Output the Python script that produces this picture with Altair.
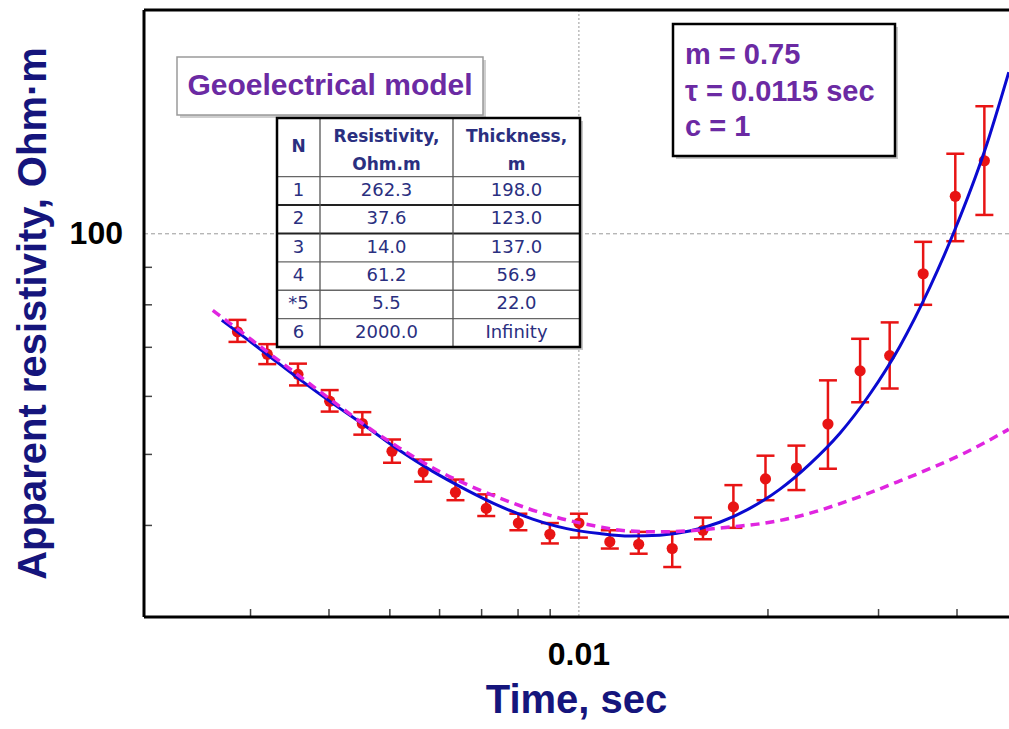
import altair as alt
import pandas as pd

# ---------------- data ----------------
time_s = [0.00286, 0.00319, 0.00357, 0.00401, 0.00452, 0.00504, 0.00565, 0.00636,
          0.00712, 0.00801, 0.00899, 0.0100, 0.0112, 0.01245, 0.01408, 0.01576,
          0.01762, 0.01982, 0.0222, 0.02492, 0.02804, 0.03125, 0.03533, 0.03975, 0.04422]
rho_obs = [73.5, 68.5, 64.3, 59.1, 55.1, 50.5, 47.3, 44.4, 42.2, 40.3, 38.9, 40.3,
           38.0, 37.7, 37.2, 39.4, 42.4, 46.3, 47.9, 55.0, 65.0, 68.2, 88.2, 112.5, 125.8]
rho_hi = [76.3, 70.7, 66.5, 61.2, 57.1, 52.4, 49.2, 46.2, 44.1, 41.5, 40.3, 41.5,
          39.4, 39.2, 39.2, 41.0, 45.4, 49.8, 51.4, 63.1, 71.9, 75.7, 97.5, 128.6, 149.3]
rho_lo = [71.2, 66.4, 62.1, 57.2, 53.2, 48.7, 45.9, 43.3, 41.2, 39.4, 37.8, 38.5,
          37.2, 36.6, 35.1, 38.3, 39.7, 43.3, 44.7, 47.8, 58.9, 61.5, 80.0, 97.7, 106.1]

# fitted curve (solid blue)
fit_t = [0.00270, 0.00281, 0.003184, 0.003593, 0.004055, 0.004594, 0.005183, 0.005851,
         0.006628, 0.007479, 0.008441, 0.009563, 0.01079, 0.01205, 0.01345, 0.01501,
         0.01676, 0.01871, 0.02088, 0.02331, 0.02602, 0.02905, 0.03243, 0.0362,
         0.03966, 0.04429, 0.04835]
fit_rho = [76.2, 74.3, 68.5, 63.3, 58.7, 54.5, 50.6, 47.4, 44.7, 42.5, 40.8, 39.6,
           39.0, 38.7, 38.8, 39.3, 40.4, 42.2, 44.8, 48.5, 53.4, 60.4, 70.2, 84.5,
           101.1, 130.0, 166.1]

# geoelectrical model curve (dashed magenta)
model_t = [0.002612, 0.00281, 0.003184, 0.003593, 0.004055, 0.004594, 0.005183,
           0.005938, 0.006628, 0.007479, 0.008566, 0.009563, 0.01067, 0.01205, 0.0136,
           0.0154, 0.01738, 0.01941, 0.02247, 0.02536, 0.02862, 0.03243, 0.0366,
           0.0413, 0.04835]
model_rho = [78.6, 75.0, 69.1, 63.9, 59.1, 54.6, 51.0, 47.6, 45.5, 43.6, 41.8, 40.7,
             39.9, 39.3, 39.2, 39.4, 39.8, 40.2, 41.2, 42.5, 44.1, 46.0, 48.0, 50.3, 54.1]

# axis labels / ticks
x_labels = [0.01]
y_labels = [100]
x_minor = [0.003, 0.004, 0.005, 0.006, 0.007, 0.008, 0.009, 0.02, 0.03, 0.04]
y_minor = [40, 50, 60, 70, 80, 90]
x_title = "Time, sec"
y_title = "Apparent resistivity, Ohm\u00b7m"

# model table
layer_n = ["1", "2", "3", "4", "*5", "6"]
layer_res = ["262.3", "37.6", "14.0", "61.2", "5.5", "2000.0"]
layer_thk = ["198.0", "123.0", "137.0", "56.9", "22.0", "Infinity"]
params = ["m = 0.75", "\u03c4 = 0.0115 sec", "c = 1"]

# ---------------- layout / style ----------------
W, H = 865, 607
PAD_L, PAD_T = 144, 10
FONT = "Liberation Sans"
NAVY = "#15157c"
PURPLE = "#6b2aa3"
TBL = "#2a2f80"
RED = "#e81414"

x_scale = alt.Scale(type="log", domain=[0.00203, 0.0484], nice=False)
y_scale = alt.Scale(type="log", domain=[30, 202], nice=False)

one = alt.Data(values=[{"k": 0}])

obs = pd.DataFrame({"t": time_s, "rho": rho_obs, "lo": rho_lo, "hi": rho_hi})
fit = pd.DataFrame({"t": fit_t, "rho": fit_rho})
mod = pd.DataFrame({"t": model_t, "rho": model_rho})


def X(field="t"):
    return alt.X(f"{field}:Q", scale=x_scale, axis=None)


def Y(field="rho"):
    return alt.Y(f"{field}:Q", scale=y_scale, axis=None)


# grid lines (only at labelled values)
vgrid = alt.Chart(pd.DataFrame({"t": x_labels})).mark_rule(
    color="#9a9a9a", strokeWidth=1, strokeDash=[2, 2]).encode(
    x=X(), y=alt.value(0), y2=alt.value(H))
hgrid = alt.Chart(pd.DataFrame({"rho": y_labels})).mark_rule(
    color="#9a9a9a", strokeWidth=1, strokeDash=[4, 3]).encode(
    y=Y(), x=alt.value(0), x2=alt.value(W))

# inward minor ticks
xticks = alt.Chart(pd.DataFrame({"t": x_minor})).mark_rule(
    color="#444444", strokeWidth=1.5).encode(x=X(), y=alt.value(H), y2=alt.value(H - 8))
yticks = alt.Chart(pd.DataFrame({"rho": y_minor})).mark_rule(
    color="#444444", strokeWidth=1.5).encode(y=Y(), x=alt.value(0), x2=alt.value(8))

# frame: top, left, bottom (right side is cut off in the reference)
frame = [
    alt.Chart(one).mark_rule(color="black", strokeWidth=3).encode(
        x=alt.value(0), x2=alt.value(W), y=alt.value(0)),
    alt.Chart(one).mark_rule(color="black", strokeWidth=3).encode(
        x=alt.value(0), y=alt.value(0), y2=alt.value(H)),
    alt.Chart(one).mark_rule(color="black", strokeWidth=3).encode(
        x=alt.value(0), x2=alt.value(W), y=alt.value(H)),
]

# axis labels and titles
x_lab = alt.Chart(pd.DataFrame({"t": x_labels})).mark_text(
    font=FONT, fontSize=32, fontWeight="bold", color="black", align="center",
    baseline="alphabetic").encode(x=X(), y=alt.value(H + 48), text=alt.Text("t:Q", format=".2f"))
y_lab = alt.Chart(pd.DataFrame({"rho": y_labels})).mark_text(
    font=FONT, fontSize=32, fontWeight="bold", color="black", align="right",
    baseline="middle").encode(y=Y(), x=alt.value(-21), text=alt.Text("rho:Q", format="d"))
x_tit = alt.Chart(one).mark_text(
    font=FONT, fontSize=40, fontWeight="bold", color=NAVY, align="center",
    baseline="alphabetic").encode(x=alt.value(W / 2), y=alt.value(H + 96),
                                  text=alt.value(x_title))
y_tit = alt.Chart(one).mark_text(
    font=FONT, fontSize=40, fontWeight="bold", color=NAVY, align="center",
    baseline="alphabetic", angle=270).encode(x=alt.value(-98), y=alt.value(H / 2),
                                             text=alt.value(y_title))

# observations with error bars
bars = alt.Chart(obs).mark_rule(color=RED, strokeWidth=2.5).encode(
    x=X(), y=Y("lo"), y2="hi:Q")
cap_lo = alt.Chart(obs).mark_tick(orient="horizontal", size=18, thickness=2.5,
                                  color=RED, opacity=1).encode(x=X(), y=Y("lo"))
cap_hi = alt.Chart(obs).mark_tick(orient="horizontal", size=18, thickness=2.5,
                                  color=RED, opacity=1).encode(x=X(), y=Y("hi"))
pts = alt.Chart(obs).mark_circle(size=125, color=RED, opacity=1).encode(x=X(), y=Y())

fit_line = alt.Chart(fit).mark_line(color="#0a0ad0", strokeWidth=3, interpolate="monotone",
                                    clip=True).encode(x=X(), y=Y())
mod_line = alt.Chart(mod).mark_line(color="#e025e0", strokeWidth=3.5, strokeDash=[9, 6],
                                    interpolate="monotone", clip=True).encode(x=X(), y=Y())


# ---------------- annotation boxes (pixel layout inside plot area) ----------------
def rect(x1, y1, x2, y2, fill, stroke=None, sw=0):
    kw = dict(fill=fill)
    if stroke:
        kw.update(stroke=stroke, strokeWidth=sw)
    return alt.Chart(one).mark_rect(**kw).encode(
        x=alt.value(x1), x2=alt.value(x2), y=alt.value(y1), y2=alt.value(y2))


def hline(x1, x2, y, color, sw):
    return alt.Chart(one).mark_rule(color=color, strokeWidth=sw).encode(
        x=alt.value(x1), x2=alt.value(x2), y=alt.value(y))


def vline(x, y1, y2, color, sw):
    return alt.Chart(one).mark_rule(color=color, strokeWidth=sw).encode(
        x=alt.value(x), y=alt.value(y1), y2=alt.value(y2))


def text_layer(df, size, weight, color, align, font=FONT):
    return alt.Chart(df).mark_text(fontSize=size, fontWeight=weight, color=color, font=font,
                                   align=align, baseline="middle").encode(
        x=alt.X("px:Q", scale=None, axis=None), y=alt.Y("py:Q", scale=None, axis=None),
        text="txt:N")


# title box
mb = (33, 47, 339, 105)
model_box = [rect(mb[0] + 3, mb[1] + 3, mb[2] + 3, mb[3] + 3, "#cfcfcf"),
             rect(*mb, fill="white", stroke="#9a9a9a", sw=1.5)]
model_title = text_layer(pd.DataFrame({"px": [(mb[0] + mb[2]) / 2], "py": [76],
                                       "txt": ["Geoelectrical model"]}),
                         30, "bold", PURPLE, "center")

# table
tx1, ty1, tx2, ty2 = 133, 108, 436, 337
col_x = [tx1, 176, 309, tx2]
head_bot = 166.7
row_h = (ty2 - head_bot) / len(layer_n)
table = [rect(tx1 + 3, ty1 + 3, tx2 + 3, ty2 + 3, "#c8c8c8"),
         rect(tx1, ty1, tx2, ty2, "white")]
for i in range(len(layer_n)):
    yy = head_bot + i * row_h
    dark = i in (1, 2)
    table.append(hline(tx1, tx2, yy, "#222222" if dark else "#666666", 2 if dark else 1.3))
for cx in col_x[1:3]:
    table.append(vline(cx, ty1, ty2, "#555555", 1.3))
table.append(rect(tx1, ty1, tx2, ty2, fill="transparent", stroke="black", sw=2.5))

centers = [(col_x[j] + col_x[j + 1]) / 2 for j in range(3)]
cells = {"px": [], "py": [], "txt": []}
for i in range(len(layer_n)):
    for j, col in enumerate([layer_n, layer_res, layer_thk]):
        cells["px"].append(centers[j])
        cells["py"].append(head_bot + (i + 0.5) * row_h)
        cells["txt"].append(col[i])
head = pd.DataFrame({"px": [centers[0], centers[1], centers[1], centers[2], centers[2]],
                     "py": [(ty1 + head_bot) / 2, 127, 155, 127, 155],
                     "txt": ["N", "Resistivity,", "Ohm.m", "Thickness,", "m"]})
table.append(text_layer(pd.DataFrame(cells), 18, "normal", TBL, "center", "DejaVu Sans"))
table.append(text_layer(head, 17, "bold", TBL, "center", "DejaVu Sans"))

# parameter box
pb = (529, 14, 751, 146)
param_box = [rect(pb[0] + 3, pb[1] + 3, pb[2] + 3, pb[3] + 3, "#c8c8c8"),
             rect(*pb, fill="white", stroke="black", sw=2.5)]
param_text = text_layer(pd.DataFrame({"px": [541] * 3, "py": [45, 81.5, 116.5],
                                      "txt": params}), 29, "bold", PURPLE, "left")

layers = ([vgrid, hgrid, xticks, yticks, bars, cap_lo, cap_hi, pts, fit_line, mod_line]
          + frame + [x_lab, y_lab, x_tit, y_tit]
          + model_box + [model_title] + table + param_box + [param_text])

chart = alt.layer(*layers).properties(
    width=W, height=H,
    autosize=alt.AutoSizeParams(type="none"),
    padding={"left": PAD_L, "top": PAD_T, "right": 0, "bottom": 729 - PAD_T - H},
    background="white",
).configure_view(stroke=None)

chart.save("out.html", embed_options={"renderer": "svg", "actions": False})
